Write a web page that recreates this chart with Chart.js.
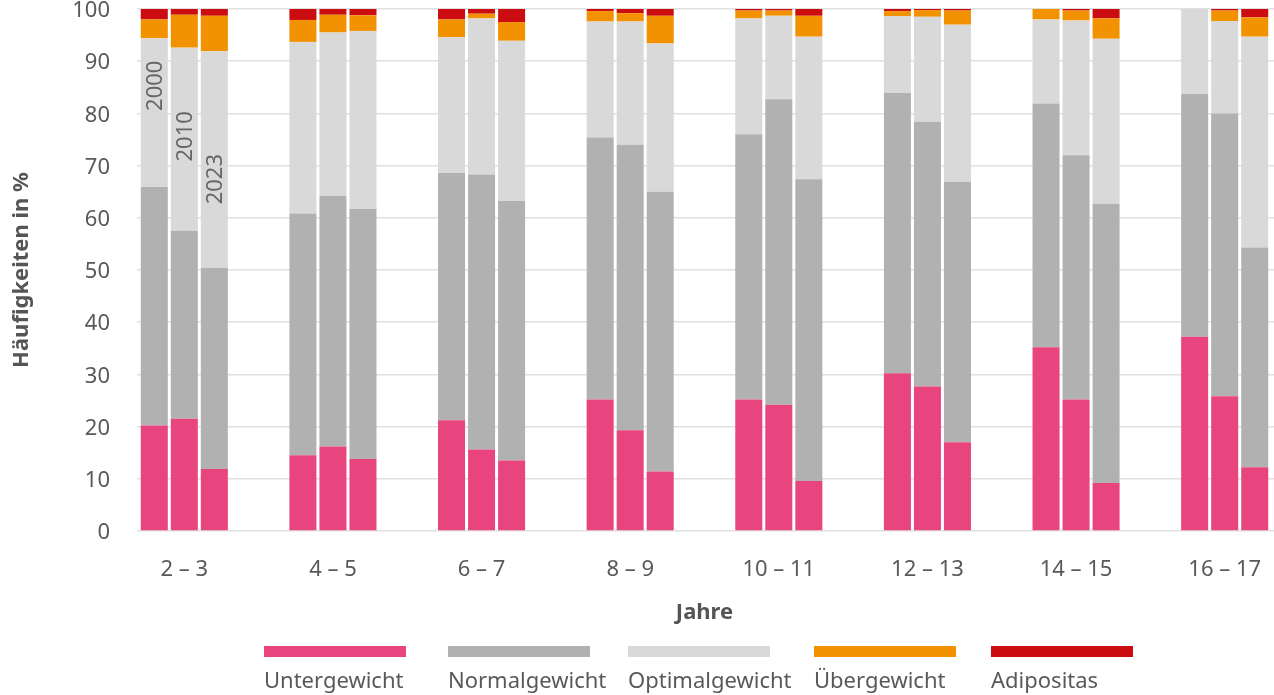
<!DOCTYPE html>
<html>
<head>
<meta charset="utf-8">
<script src="https://cdn.jsdelivr.net/npm/chart.js@4.4.1/dist/chart.umd.min.js"></script>
<style>
  html, body { margin: 0; padding: 0; background: #fff; overflow: hidden; }
  #wrap { width: 1300px; height: 695px; }
</style>
</head>
<body>
<div id="wrap"><canvas id="bmiChart" width="1300" height="695"></canvas></div>
<script>
// === bmiChart ===
const ageGroups = ["2 – 3", "4 – 5", "6 – 7", "8 – 9", "10 – 11", "12 – 13", "14 – 15", "16 – 17"];
const years = ["2000", "2010", "2023"];
const categories = ["Untergewicht", "Normalgewicht", "Optimalgewicht", "Übergewicht", "Adipositas"];
const colors = ["#e8457f", "#b1b1b1", "#d9d9d9", "#f39200", "#cb0c11"];

// each: [2000, 2010, 2023] over the age groups, in %
const untergewicht = [
  [20.2, 14.5, 21.2, 25.2, 25.2, 30.2, 35.2, 37.2],
  [21.5, 16.2, 15.6, 19.3, 24.2, 27.7, 25.2, 25.8],
  [11.9, 13.8, 13.5, 11.4, 9.6, 17.0, 9.2, 12.2],
];
const normalgewicht = [
  [45.7, 46.3, 47.4, 50.2, 50.8, 53.7, 46.7, 46.5],
  [36.0, 48.0, 52.7, 54.7, 58.5, 50.7, 46.8, 54.2],
  [38.5, 47.9, 49.7, 53.6, 57.8, 49.9, 53.5, 42.1],
];
const optimalgewicht = [
  [28.5, 32.9, 26.0, 22.2, 22.2, 14.7, 16.1, 16.3],
  [35.1, 31.3, 29.9, 23.6, 16.0, 20.1, 25.8, 17.7],
  [41.5, 34.1, 30.7, 28.4, 27.3, 30.1, 31.6, 40.4],
];
const uebergewicht = [
  [3.6, 4.2, 3.4, 2.0, 1.5, 1.0, 2.0, 0],
  [6.3, 3.4, 0.9, 1.6, 1.0, 1.3, 1.9, 2.0],
  [6.8, 3.0, 3.6, 5.3, 4.0, 2.7, 3.9, 3.7],
];
const adipositas = [
  [2.0, 2.1, 2.0, 0.4, 0.3, 0.4, 0, 0],
  [1.1, 1.1, 0.9, 0.8, 0.3, 0.2, 0.3, 0.3],
  [1.3, 1.2, 2.5, 1.3, 1.3, 0.3, 1.8, 1.6],
];
const yTicks = [0, 10, 20, 30, 40, 50, 60, 70, 80, 90, 100];

const seriesList = [untergewicht, normalgewicht, optimalgewicht, uebergewicht, adipositas];
const yearLabelAt = [85.3, 75.6, 67.4];   // where the year tag sits inside the first group
const legendX = [264, 448, 628, 814, 991];
const textColor = "#595959";
const fontFamily = "'Noto Sans', 'Open Sans', sans-serif";

const datasets = [];
years.forEach((year, y) => {
  categories.forEach((cat, k) => {
    datasets.push({
      label: cat,
      data: seriesList[k][y],
      backgroundColor: colors[k],
      borderWidth: 0,
      stack: year,
      categoryPercentage: 0.606,
      barPercentage: 0.9,
    });
  });
});

// grid lines start a bit right of the axis in the original
const gridMask = {
  id: "gridMask",
  beforeDatasetsDraw(chart) {
    const { ctx, chartArea } = chart;
    ctx.save();
    ctx.fillStyle = "#fff";
    ctx.fillRect(chartArea.left - 1, chartArea.top - 3, 138 - chartArea.left, chartArea.height + 6);
    ctx.restore();
  },
};

const yearTags = {
  id: "yearTags",
  afterDatasetsDraw(chart) {
    const { ctx } = chart;
    const yScale = chart.scales.y;
    ctx.save();
    ctx.fillStyle = "#666";
    ctx.font = "22px " + fontFamily;
    ctx.textAlign = "center";
    ctx.textBaseline = "middle";
    years.forEach((year, j) => {
      const bar = chart.getDatasetMeta(j * categories.length).data[0];
      ctx.save();
      ctx.translate(bar.x + 1, yScale.getPixelForValue(yearLabelAt[j]));
      ctx.rotate(-Math.PI / 2);
      ctx.fillText(year, 0, 0);
      ctx.restore();
    });
    ctx.restore();
  },
};

const bandLegend = {
  id: "bandLegend",
  afterDraw(chart) {
    const { ctx } = chart;
    ctx.save();
    ctx.font = "22px " + fontFamily;
    ctx.textAlign = "left";
    ctx.textBaseline = "middle";
    categories.forEach((cat, k) => {
      ctx.fillStyle = colors[k];
      ctx.fillRect(legendX[k], 646, 142, 11);
      ctx.fillStyle = textColor;
      ctx.fillText(cat, legendX[k], 682);
    });
    ctx.restore();
  },
};

const ctx = document.getElementById("bmiChart").getContext("2d");
new Chart(ctx, {
  type: "bar",
  data: { labels: ageGroups, datasets },
  options: {
    responsive: false,
    animation: false,
    devicePixelRatio: 1,
    layout: { padding: { top: 9, bottom: 64, left: 0, right: 1 } },
    plugins: { legend: { display: false }, tooltip: { enabled: false } },
    scales: {
      x: {
        stacked: true,
        grid: { display: false, drawTicks: false },
        border: { display: false },
        ticks: { color: textColor, font: { size: 22, family: fontFamily }, padding: 26, maxRotation: 0 },
        title: { display: true, text: "Jahre", color: "#555", font: { size: 22, weight: "bold", family: fontFamily }, padding: { top: 0, bottom: 5 } },
        afterFit(s) { s.height = 100; s.paddingLeft = 0; s.paddingRight = 0; },
      },
      y: {
        stacked: true,
        min: 0,
        max: 100,
        afterBuildTicks(s) { s.ticks = yTicks.map(v => ({ value: v })); },
        grid: { color: "#e0e0e0", lineWidth: 1.5, drawTicks: false },
        border: { display: false },
        ticks: { color: textColor, font: { size: 22, family: fontFamily }, padding: 0, labelOffset: 2 },
        title: { display: true, text: "Häufigkeiten in %", color: "#555", font: { size: 22, weight: "bold", family: fontFamily }, padding: { top: 9, bottom: 0 } },
        afterFit(s) { s.width = 110; s.paddingTop = 0; s.paddingBottom = 0; },
      },
    },
  },
  plugins: [gridMask, yearTags, bandLegend],
});
</script>
</body>
</html>
